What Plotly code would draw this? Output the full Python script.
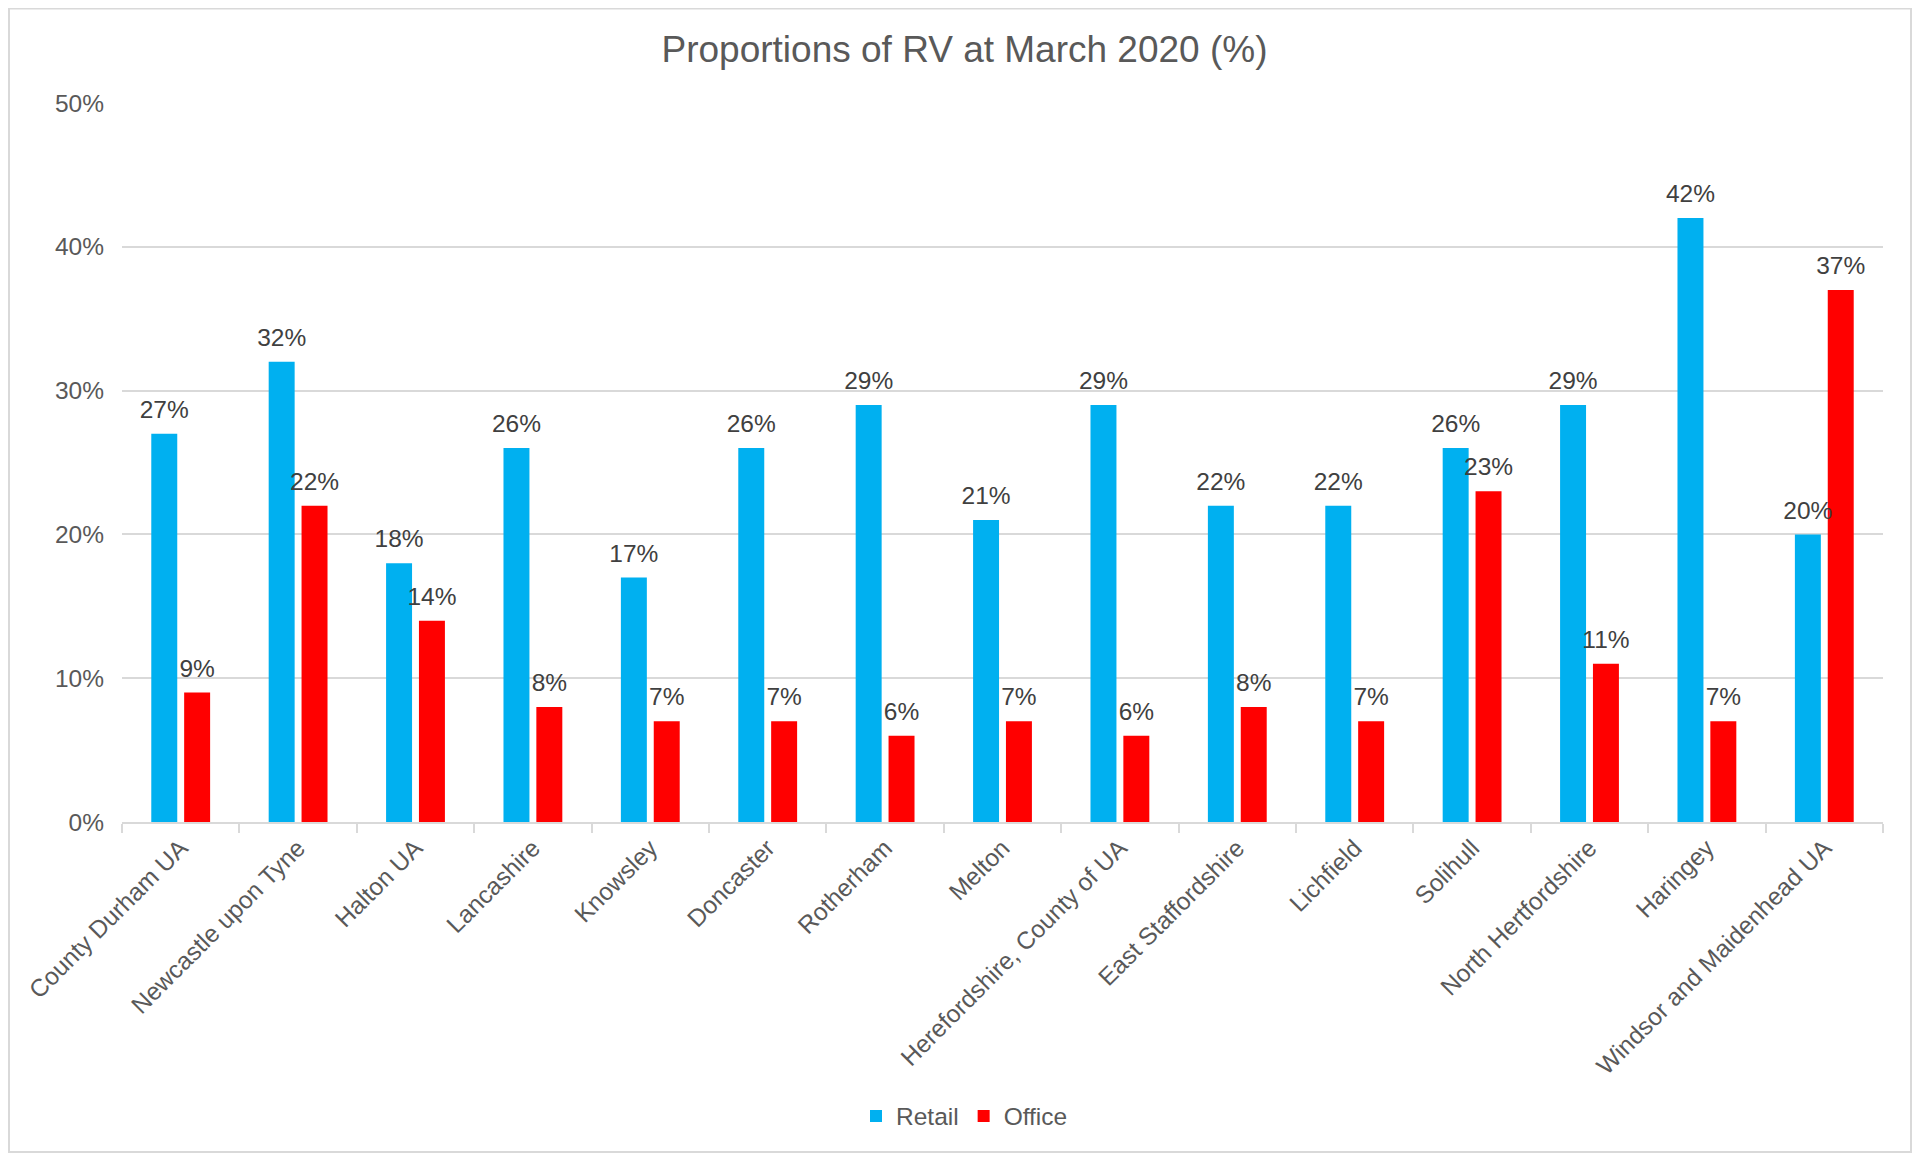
import plotly.graph_objects as go

categories = [
    'County Durham UA', 'Newcastle upon Tyne', 'Halton UA', 'Lancashire',
    'Knowsley', 'Doncaster', 'Rotherham', 'Melton',
    'Herefordshire, County of UA', 'East Staffordshire', 'Lichfield',
    'Solihull', 'North Hertfordshire', 'Haringey', 'Windsor and Maidenhead UA',
]
retail = [0.27, 0.32, 0.18, 0.26, 0.17, 0.26, 0.29, 0.21, 0.29, 0.22, 0.22,
          0.26, 0.29, 0.42, 0.20]
office = [0.09, 0.22, 0.14, 0.08, 0.07, 0.07, 0.06, 0.07, 0.06, 0.08, 0.07,
          0.23, 0.11, 0.07, 0.37]

# page body has an 8px margin, so the figure is laid out 8px up/left
W, H = 1913, 1146
ML, MR, MT, MB = 114, 38, 95, 332
FONT = 'Liberation Sans, Arial, sans-serif'
FS = 24.5
GAP = 0.44

fig = go.Figure()
series = [('Retail', retail, '#00B0F0'), ('Office', office, '#FF0000')]
for name, vals, col in series:
    fig.add_trace(go.Bar(
        x=categories, y=vals, name=name, offsetgroup=name,
        marker=dict(color=col, line=dict(width=0)),
        hovertemplate='%{x}<br>' + name + ': %{y:.0%}<extra></extra>',
    ))
# data labels, grouped like the bars
for name, vals, col in series:
    fig.add_trace(go.Scatter(
        x=categories, y=vals, offsetgroup=name, mode='markers+text',
        marker=dict(size=14, opacity=0), showlegend=False, hoverinfo='skip',
        texttemplate='%{y:.0%}', textposition='top center',
        textfont=dict(size=FS, color='#404040', family=FONT),
        cliponaxis=False,
    ))

# chart border, in paper units
pw, ph = W - ML - MR, H - MT - MB
fig.add_shape(type='rect', xref='paper', yref='paper',
              x0=(1 - ML) / pw, x1=(1903 - ML) / pw,
              y0=(H - MB - 1144) / ph, y1=(H - MB - 0.5) / ph,
              line=dict(color='#D9D9D9', width=2), layer='below')

fig.update_layout(
    width=W, height=H,
    margin=dict(l=ML, r=MR, t=MT, b=MB),
    paper_bgcolor='white', plot_bgcolor='white',
    font=dict(family=FONT, color='#595959', size=FS),
    title=dict(text='Proportions of RV at March 2020 (%)',
               x=0.5, xref='container', xanchor='center',
               y=1 - 41 / H, yanchor='middle',
               font=dict(size=37, color='#595959', family=FONT)),
    barmode='group', bargap=GAP, bargroupgap=0.21,
    scattermode='group', scattergap=GAP,
    showlegend=True,
    legend=dict(orientation='h', xref='container', yref='container',
                x=0.5, xanchor='center', y=1 - 1108 / H, yanchor='middle',
                font=dict(size=FS, color='#595959'), itemwidth=30,
                traceorder='normal'),
)
fig.update_yaxes(range=[0, 0.5], dtick=0.1, tickformat='.0%',
                 showgrid=True, gridcolor='#D9D9D9', gridwidth=2,
                 zeroline=False, showline=False, ticks='',
                 tickfont=dict(size=FS, color='#595959'), ticklabelstandoff=17)
fig.update_xaxes(tickangle=-45, showline=True, linecolor='#D9D9D9', linewidth=2,
                 ticks='outside', tickson='boundaries', ticklen=9,
                 tickcolor='#D9D9D9', tickwidth=2,
                 tickfont=dict(size=FS, color='#595959'))

fig.write_html('out.html')
